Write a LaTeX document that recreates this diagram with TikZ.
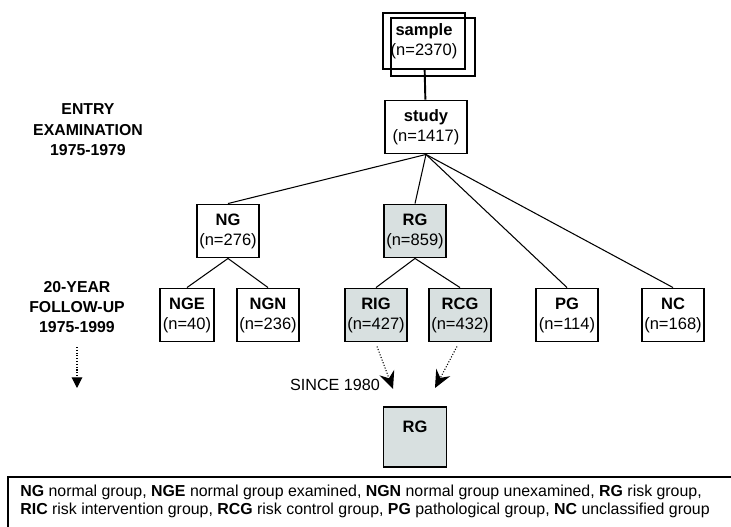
\documentclass[tikz,border=0pt]{standalone}
\usepackage{fontspec}
\setmainfont{Liberation Sans}
\usepackage{xcolor}
\usepackage{tikz}
\usetikzlibrary{arrows.meta}
\definecolor{riskfill}{RGB}{216,224,224}

\begin{document}
\begin{tikzpicture}[x=0.02cm, y=-0.02cm,
        box/.style={rectangle, draw, line width=1.1pt, fill=white, minimum width=1.24cm, minimum height=1.06cm, inner sep=0pt, align=center, font=\fontsize{9.4}{11.4}\selectfont},
        riskbox/.style={box, fill=riskfill},
        period/.style={align=center, font=\fontsize{9}{11.6}\selectfont\bfseries},
        link/.style={line width=0.6pt},
        later/.style={densely dotted, line width=0.6pt, -{Stealth[length=10pt, width=9pt, inset=3.5pt]}}
    ]
        \useasboundingbox (0,0) rectangle (731,527);

        \node[box, minimum width=1.64cm, minimum height=1.12cm] (sample) at (424,41) {\textbf{sample}\\(n=2370)};
        \draw[line width=1.1pt] ([shift={(9,6)}]sample.north west) rectangle ([shift={(9,6)}]sample.south east);
        \node[box, minimum width=1.64cm] (study) at (426,127) {\textbf{study}\\(n=1417)};

        \node[box] (NG) at (228,231) {\textbf{NG}\\(n=276)};
        \node[riskbox] (RG) at (415,231) {\textbf{RG}\\(n=859)};

        \node[box, minimum width=1.08cm] (NGE) at (187,315) {\textbf{NGE}\\(n=40)};
        \node[box] (NGN) at (268,315) {\textbf{NGN}\\(n=236)};
        \node[riskbox] (RIG) at (376,315) {\textbf{RIG}\\(n=427)};
        \node[riskbox] (RCG) at (460,315) {\textbf{RCG}\\(n=432)};
        \node[box] (PG) at (567,315) {\textbf{PG}\\(n=114)};
        \node[box] (NC) at (673,315) {\textbf{NC}\\(n=168)};

        \node[riskbox, minimum width=1.26cm, minimum height=1.2cm] (RGlate) at (415,437) {\textbf{RG}\\~};

        \draw[line width=1.1pt] (sample) -- (study);
        \draw[link] (study.south) -- (NG.north);
        \draw[link] (study.south) -- (RG.north);
        \draw[link] (study.south) -- (PG.north);
        \draw[link] (study.south) -- (NC.north);
        \draw[link] (NG.south) -- (NGE.north);
        \draw[link] (NG.south) -- (NGN.north);
        \draw[link] (RG.south) -- (RIG.north);
        \draw[link] (RG.south) -- (RCG.north);

        % switch of the risk groups
        \coordinate (tipA) at (393,389);
        \coordinate (tipB) at (435,388);
        \draw[later] ([shift={(1,4)}]RIG.south) -- (tipA);
        \draw[later] ([shift={(-3,4)}]RCG.south) -- (tipB);
        \node[font=\fontsize{9.2}{11}\selectfont] (since) at (335,385) {SINCE 1980};

        \node[period] (entry) at (88,130) {ENTRY\\EXAMINATION\\1975-1979};
        \node[period] (followup) at (77,307) {20-YEAR\\FOLLOW-UP\\1975-1999};
        \coordinate (futop) at (77,347);
        \coordinate (futip) at (77,388);
        \draw[densely dotted, line width=0.6pt, -{Triangle[length=6pt, width=6pt]}] (futop) -- (futip);

        % legend
        \draw[line width=1pt] (8,477) rectangle (745,540);
        \node[anchor=west, align=left, inner sep=0pt, font=\fontsize{9.05}{10.3}\selectfont] (legend) at (20,501)
            {\textbf{NG} normal group, \textbf{NGE} normal group examined, \textbf{NGN} normal group unexamined, \textbf{RG} risk group,\\
             \textbf{RIC} risk intervention group, \textbf{RCG} risk control group, \textbf{PG} pathological group, \textbf{NC} unclassified group};
    \end{tikzpicture}
\end{document}
